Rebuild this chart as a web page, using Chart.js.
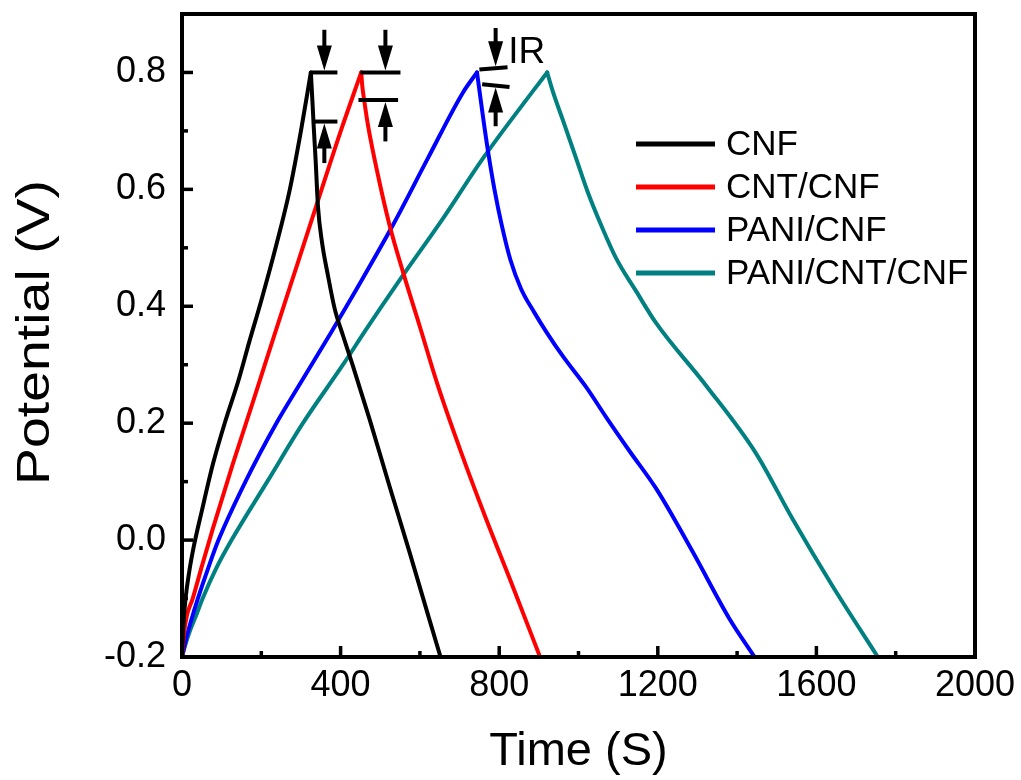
<!DOCTYPE html>
<html>
<head>
<meta charset="utf-8">
<script src="https://cdn.jsdelivr.net/npm/chart.js@4.4.1/dist/chart.umd.min.js"></script>
<style>
  html, body { margin: 0; padding: 0; background: #fff; }
  #wrap { width: 1021px; height: 780px; }
</style>
</head>
<body>
<div id="wrap"><canvas id="gcd" width="1021" height="780"></canvas></div>
<script>
const FONT = "'Liberation Sans', Arial, Helvetica, sans-serif";

// charge / discharge curves: time in s, potential in V
const cnfTime = [0, 3, 9, 18, 30, 50, 78, 110, 141, 170, 200, 236, 272, 300, 325,
  329, 332, 337, 343, 353, 368, 385, 406, 430, 473, 523, 574, 624, 652];
const cnfPotential = [-0.2, -0.15, -0.10, -0.055, -0.01, 0.05, 0.13, 0.205, 0.27, 0.34, 0.41, 0.50, 0.60, 0.70, 0.80,
  0.75, 0.71, 0.65, 0.57, 0.51, 0.453, 0.396, 0.35, 0.30, 0.207, 0.093, -0.021, -0.136, -0.2];

const cntTime = [0, 5, 12, 27, 50, 78, 128, 183, 235, 290, 345, 398, 452,
  455, 460, 469, 494, 523, 559, 600, 645, 704, 767, 834, 903];
const cntPotential = [-0.2, -0.16, -0.13, -0.10, -0.045, 0.02, 0.13, 0.245, 0.355, 0.47, 0.585, 0.695, 0.80,
  0.775, 0.75, 0.71, 0.625, 0.54, 0.455, 0.365, 0.265, 0.15, 0.036, -0.079, -0.2];

const paniTime = [0, 10, 22, 40, 65, 92, 160, 238, 300, 376, 439, 532, 620, 708, 744,
  750, 760, 773, 788, 806, 828, 855, 888, 920, 960, 1019, 1070, 1129, 1196, 1288, 1381, 1444];
const paniPotential = [-0.2, -0.17, -0.14, -0.10, -0.05, 0.0, 0.10, 0.20, 0.27, 0.355, 0.428, 0.539, 0.653, 0.765, 0.80,
  0.77, 0.72, 0.66, 0.60, 0.54, 0.48, 0.43, 0.39, 0.355, 0.315, 0.262, 0.21, 0.152, 0.088, -0.02, -0.135, -0.2];

const paniCntTime = [0, 8, 20, 35, 52, 85, 125, 215, 305, 406, 464, 544, 658, 759, 885, 921,
  935, 965, 994, 1023, 1057, 1095, 1146, 1195, 1321, 1448, 1540, 1641, 1755];
const paniCntPotential = [-0.2, -0.18, -0.155, -0.13, -0.10, -0.05, 0.0, 0.10, 0.20, 0.30, 0.36, 0.44, 0.55, 0.653, 0.768, 0.80,
  0.768, 0.71, 0.653, 0.596, 0.539, 0.482, 0.425, 0.372, 0.265, 0.148, 0.036, -0.079, -0.2];

const seriesNames = ["CNF", "CNT/CNF", "PANI/CNF", "PANI/CNT/CNF"];
const seriesColors = ["#000000", "#ff0000", "#0000ff", "#008080"];
const seriesTime = [cnfTime, cntTime, paniTime, paniCntTime];
const seriesPotential = [cnfPotential, cntPotential, paniPotential, paniCntPotential];

const timeTicks = [0, 400, 800, 1200, 1600, 2000];
const potentialTicks = [-0.2, 0.0, 0.2, 0.4, 0.6, 0.8];
const yTitle = "Potential (V)";

// IR drop markers (data units): bars at the top of the drop and at its end
const irMarks = [
  { upper: [[327, 0.8], [392, 0.8]], lower: [[334, 0.716], [392, 0.716]], at: 359, from: 0.873, to: 0.645 },
  { upper: [[450, 0.8], [551, 0.8]], lower: [[445, 0.753], [545, 0.753]], at: 513, from: 0.873, to: 0.682 },
  { upper: [[750, 0.805], [821, 0.809]], lower: [[757, 0.780], [826, 0.775]], at: 791, from: 0.876, to: 0.708 },
];
const irLabel = { text: "IR", x: 823, y: 0.816 };

// each curve is split at its peak into a charge and a discharge branch,
// so the smoothing keeps the corner at the top sharp
const datasets = [];
seriesTime.forEach((ts, i) => {
  const vs = seriesPotential[i];
  const peak = vs.indexOf(Math.max(...vs));
  const pts = ts.map((t, k) => ({ x: t, y: vs[k] }));
  [pts.slice(0, peak + 1), pts.slice(peak)].forEach((branch) => {
    datasets.push({
      label: seriesNames[i],
      data: branch,
      showLine: true,
      borderColor: seriesColors[i],
      backgroundColor: seriesColors[i],
      borderWidth: 4,
      borderCapStyle: "round",
      pointRadius: 0,
      cubicInterpolationMode: "monotone",
    });
  });
});

function line(ctx, x0, y0, x1, y1) {
  ctx.beginPath();
  ctx.moveTo(x0, y0);
  ctx.lineTo(x1, y1);
  ctx.stroke();
}

// vertical arrow whose tip sits on yTip
function arrow(ctx, px, yTail, yTip) {
  const dir = yTip > yTail ? 1 : -1;
  const head = 25, half = 7.5;
  line(ctx, px, yTail, px, yTip - dir * head + dir * 2);
  ctx.beginPath();
  ctx.moveTo(px, yTip);
  ctx.lineTo(px - half, yTip - dir * head);
  ctx.lineTo(px + half, yTip - dir * head);
  ctx.closePath();
  ctx.fill();
}

const frameAndMarks = {
  id: "frameAndMarks",
  afterDatasetsDraw(chart) {
    const { ctx, chartArea: a, scales: { x, y } } = chart;
    ctx.save();
    ctx.strokeStyle = "#000";
    ctx.fillStyle = "#000";
    ctx.lineCap = "butt";

    ctx.lineWidth = 4;
    ctx.strokeRect(a.left, a.top, a.right - a.left, a.bottom - a.top);

    // inward ticks, major and minor, on the bottom and left axes
    ctx.lineWidth = 3.5;
    timeTicks.forEach((v, i) => {
      const px = x.getPixelForValue(v);
      if (i > 0 && i < timeTicks.length - 1) line(ctx, px, a.bottom, px, a.bottom - 11);
      if (i < timeTicks.length - 1) {
        const m = x.getPixelForValue((v + timeTicks[i + 1]) / 2);
        line(ctx, m, a.bottom, m, a.bottom - 6);
      }
    });
    potentialTicks.forEach((v, i) => {
      const py = y.getPixelForValue(v);
      if (i > 0) line(ctx, a.left, py, a.left + 11, py);
      const m = y.getPixelForValue(v + 0.1);
      line(ctx, a.left, m, a.left + 6, m);
    });

    // IR drop markers
    ctx.lineWidth = 4;
    irMarks.forEach((m) => {
      const [u0, u1] = m.upper, [l0, l1] = m.lower;
      line(ctx, x.getPixelForValue(u0[0]), y.getPixelForValue(u0[1]), x.getPixelForValue(u1[0]), y.getPixelForValue(u1[1]));
      line(ctx, x.getPixelForValue(l0[0]), y.getPixelForValue(l0[1]), x.getPixelForValue(l1[0]), y.getPixelForValue(l1[1]));
      const f = (m.at - u0[0]) / (u1[0] - u0[0]);
      const g = (m.at - l0[0]) / (l1[0] - l0[0]);
      const upY = u0[1] + f * (u1[1] - u0[1]);
      const loY = l0[1] + g * (l1[1] - l0[1]);
      const px = x.getPixelForValue(m.at);
      arrow(ctx, px, y.getPixelForValue(m.from), y.getPixelForValue(upY) - 2);
      arrow(ctx, px, y.getPixelForValue(m.to), y.getPixelForValue(loY) + 2);
    });
    ctx.font = `37px ${FONT}`;
    ctx.textAlign = "left";
    ctx.textBaseline = "alphabetic";
    ctx.fillText(irLabel.text, x.getPixelForValue(irLabel.x), y.getPixelForValue(irLabel.y));

    // legend, one entry per series
    const lx = a.left + 454, ly = a.top + 130, gap = 43;
    ctx.font = `35px ${FONT}`;
    ctx.textBaseline = "middle";
    seriesNames.forEach((name, i) => {
      const yy = ly + i * gap;
      ctx.strokeStyle = seriesColors[i];
      ctx.lineWidth = 5;
      line(ctx, lx, yy, lx + 79, yy);
      ctx.fillStyle = "#000";
      ctx.fillText(name, lx + 90, yy + 1);
    });

    // y axis title, drawn a little stretched along its length
    ctx.translate(36, (a.top + a.bottom) / 2 - 3);
    ctx.rotate(-Math.PI / 2);
    ctx.scale(1.18, 1);
    ctx.font = `47px ${FONT}`;
    ctx.textAlign = "center";
    ctx.textBaseline = "middle";
    ctx.fillText(yTitle, 0, 0);
    ctx.restore();
  },
};

new Chart(document.getElementById("gcd"), {
  type: "scatter",
  data: { datasets },
  options: {
    responsive: false,
    devicePixelRatio: 1,
    animation: false,
    layout: { padding: { left: 0, top: 14, right: 46, bottom: 0 } },
    plugins: { legend: { display: false }, tooltip: { enabled: false } },
    scales: {
      x: {
        type: "linear",
        min: 0,
        max: 2000,
        afterBuildTicks: (s) => { s.ticks = timeTicks.map((v) => ({ value: v })); },
        afterFit: (s) => { s.height = 123; s.paddingLeft = 0; s.paddingRight = 0; },
        grid: { display: false, drawTicks: false },
        border: { display: false },
        ticks: {
          color: "#000",
          font: { family: FONT, size: 36 },
          padding: 7,
          maxRotation: 0,
          autoSkip: false,
          callback: (v) => String(v),
        },
        title: {
          display: true,
          text: "Time (S)",
          color: "#000",
          font: { family: FONT, size: 47 },
          padding: { top: 0, bottom: 0 },
        },
      },
      y: {
        type: "linear",
        min: -0.2,
        max: 0.9,
        afterBuildTicks: (s) => { s.ticks = potentialTicks.map((v) => ({ value: v })); },
        afterFit: (s) => { s.width = 182; s.paddingTop = 0; s.paddingBottom = 0; },
        grid: { display: false, drawTicks: false },
        border: { display: false },
        ticks: {
          color: "#000",
          font: { family: FONT, size: 36 },
          padding: 16,
          autoSkip: false,
          callback: (v) => v.toFixed(1),
        },
        title: { display: false },
      },
    },
  },
  plugins: [frameAndMarks],
});
</script>
</body>
</html>
